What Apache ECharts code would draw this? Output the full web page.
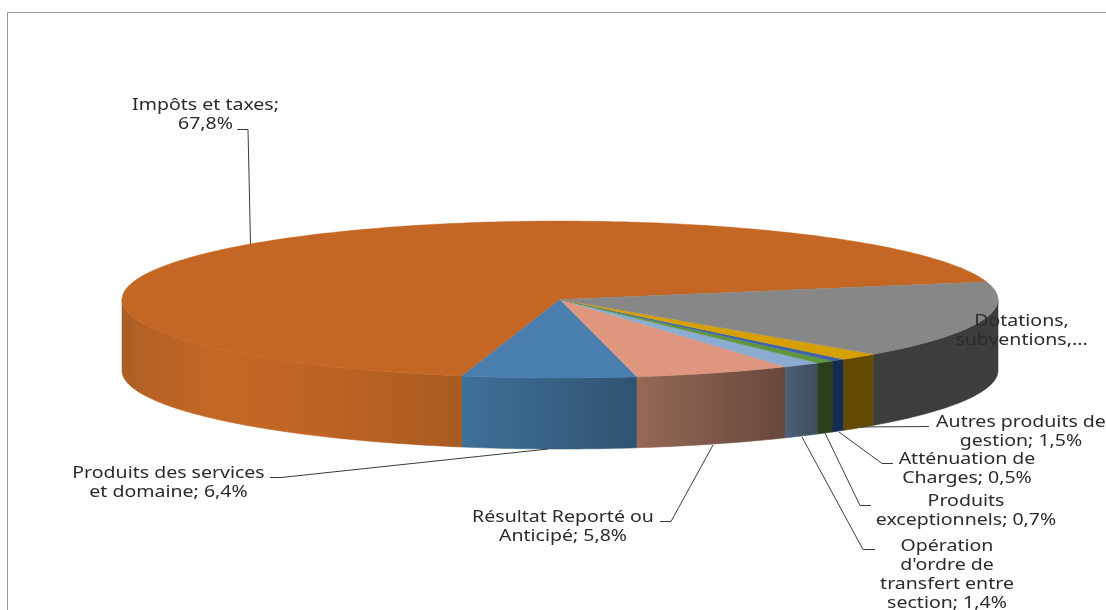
<!DOCTYPE html>
<html><head><meta charset="utf-8">
<style>html,body{margin:0;padding:0;background:#fff}#c{width:1106px;height:610px}</style>
<script src="https://cdn.jsdelivr.net/npm/echarts@6/dist/echarts.min.js"></script>
</head><body><div id="c"></div>
<script>
// Data
const categories = ["Impôts et taxes","Produits des services et domaine","Résultat Reporté ou Anticipé","Opération d'ordre de transfert entre section","Produits exceptionnels","Atténuation de Charges","Autres produits de gestion","Dotations, subventions,..."];
const values = [67.8,6.4,5.8,1.4,0.7,0.5,1.5,15.9];
const labelLines = [
  ["Impôts et taxes;","67,8%"],
  ["Produits des services","et domaine; 6,4%"],
  ["Résultat Reporté ou","Anticipé; 5,8%"],
  ["Opération","d'ordre de","transfert entre","section; 1,4%"],
  ["Produits","exceptionnels; 0,7%"],
  ["Atténuation de","Charges; 0,5%"],
  ["Autres produits de","gestion; 1,5%"],
  ["Dotations,","subventions,..."]
];
const topColors = ["#C46624","#4A7EAE","#DF967E","#8BABD0","#5E9640","#3F62A8","#D6A100","#878787"];
const wallStops = [
  [[0,"#A95C25"],[0.06,"#B56126"],[0.27,"#C46824"],[0.6,"#BE6424"],[1,"#A85A20"]],
  [[0,"#3F7099"],[1,"#2F5372"]],
  [[0,"#966856"],[1,"#67483B"]],
  [[0,"#4A5F78"],[1,"#3F4D5D"]],
  [[0,"#2A401A"],[1,"#2A401A"]],
  [[0,"#172A50"],[1,"#172A50"]],
  [[0,"#624A00"],[1,"#624A00"]],
  [[0,"#3D3D3D"],[1,"#3D3D3D"]]
];
// Layout
const geo = {cx:560, cy:299.5, rx:438, ry:78.5, depth:71, start:103};
const labelPos = [[205.5,105.5],[168.5,473.5],[563,517.5],[947,546],[966,501],[967,459.5],[1021,422.5],[1021.5,321.5]];
const lineGap = 19.2;
const leaders = [
  [[237,129.5],[248,129.5],[250.5,244]],
  [[270,477.5],[281,477.5],[548,449]],
  [[660,521.5],[671,521.5],[713,445]],
  [[875,549.5],[863,549.5],[802,437]],
  [[871,505.5],[860,505.5],[825,433]],
  [[893,463.5],[882,463.5],[839,432]],
  [[929,426.5],[860,427]],
  null
];
const font = '16px "Noto Sans"', textScale = 1.22, textColor = "#2b2b2b";

const total = values.reduce((a,b)=>a+b,0);
function pt(deg, dy){
  const r = deg*Math.PI/180;
  return [geo.cx+geo.rx*Math.sin(r), geo.cy+geo.ry*Math.cos(r)+(dy||0)];
}
function arc(a,b,dy){
  const out=[]; const n=Math.max(2,Math.ceil(Math.abs(b-a)));
  for(let i=0;i<=n;i++) out.push(pt(a+(b-a)*i/n,dy));
  return out;
}
function visibleWall(a,b){
  for(const [lo,hi] of [[-90,90],[270,450]]){
    const s=Math.max(a,lo), e=Math.min(b,hi);
    if(e>s) return [s,e];
  }
  return null;
}
function renderItem(params, api){
  const i = params.dataIndex;
  const before = values.slice(0,i).reduce((a,b)=>a+b,0);
  const a = geo.start + before/total*360;
  const b = a + api.value(0)/total*360;
  const children=[];
  const wall = visibleWall(a,b);
  if(wall){
    const stops = wallStops[i].map(s=>({offset:s[0],color:s[1]}));
    const fill = new echarts.graphic.LinearGradient(0,0,1,0,stops);
    const pts = arc(wall[0],wall[1],0).concat(arc(wall[1],wall[0],geo.depth));
    children.push({type:'polygon',shape:{points:pts},style:{fill,stroke:fill,lineWidth:0.6},z2:1});
  }
  children.push({type:'polygon',shape:{points:[[geo.cx,geo.cy]].concat(arc(a,b,0))},
    style:{fill:topColors[i],stroke:topColors[i],lineWidth:0.4},z2:2});
  if(leaders[i]) children.push({type:'polyline',shape:{points:leaders[i]},
    style:{stroke:"#3c3c3c",lineWidth:1,fill:null},z2:5});
  labelLines[i].forEach((t,k)=>{
    const x=labelPos[i][0], y=labelPos[i][1]+k*lineGap;
    children.push({type:'text',x,y,scaleX:textScale,z2:6,
      style:{text:t,x:0,y:0,align:'center',verticalAlign:'middle',font,fill:textColor}});
  });
  return {type:'group',children};
}
const chart = echarts.init(document.getElementById('c'),null,{renderer:'canvas'});
chart.setOption({
  animation:false,
  backgroundColor:'#ffffff',
  graphic:[{type:'polyline',shape:{points:[[7.5,610],[7.5,12.5],[1106,12.5]]},style:{stroke:'#989898',lineWidth:1,fill:null},silent:true}],
  series:[{type:'custom',coordinateSystem:'none',renderItem,
    data:values.map((v,i)=>({name:categories[i],value:[v]}))}]
});
</script></body></html>
